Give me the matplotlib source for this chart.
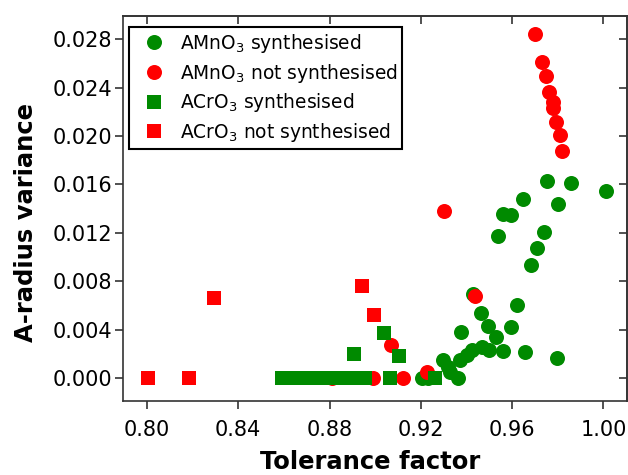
import matplotlib
matplotlib.use("Agg")
import matplotlib.pyplot as plt

plt.rcParams["font.family"] = ["DejaVu Sans"]
plt.rcParams["mathtext.default"] = "regular"

# AMnO3 compounds that have been synthesised
mn_syn_tf = [0.9751, 0.9856, 1.0010, 0.9646, 0.9799, 0.9558, 0.9594, 0.9739,
             0.9539, 0.9710, 0.9681, 0.9619, 0.9427, 0.9465, 0.9495, 0.9593,
             0.9375, 0.9530, 0.9656, 0.9795, 0.9561, 0.9499, 0.9466, 0.9422,
             0.9400, 0.9371, 0.9295, 0.9320, 0.9327, 0.9364, 0.9204, 0.9231]
mn_syn_var = [0.01628, 0.01612, 0.01545, 0.01483, 0.01436, 0.01359, 0.01345, 0.01207,
              0.01171, 0.01078, 0.00931, 0.00600, 0.00698, 0.00540, 0.00432, 0.00418,
              0.00380, 0.00342, 0.00215, 0.00165, 0.00223, 0.00230, 0.00256, 0.00230,
              0.00190, 0.00146, 0.00146, 0.00090, 0.00050, 0.0, 0.0, 0.0]

# AMnO3 compounds not synthesised
mn_not_tf = [0.9700, 0.9729, 0.9748, 0.9761, 0.9780, 0.9777, 0.9790, 0.9809,
             0.9819, 0.9302, 0.9437, 0.9068, 0.8809, 0.8991, 0.9120, 0.9225]
mn_not_var = [0.02846, 0.02612, 0.02493, 0.02364, 0.02281, 0.02235, 0.02116, 0.02006,
              0.01876, 0.01380, 0.00675, 0.00270, 0.0, 0.0, 0.0, 0.00050]

# ACrO3 compounds that have been synthesised
cr_syn_tf = [0.859, 0.861, 0.863, 0.865, 0.867, 0.869, 0.871, 0.873, 0.875,
             0.877, 0.879, 0.881, 0.883, 0.885, 0.887, 0.889, 0.891, 0.893,
             0.8955, 0.9064, 0.8907, 0.9037, 0.9105, 0.926]
cr_syn_var = [0.0, 0.0, 0.0, 0.0, 0.0, 0.0, 0.0, 0.0, 0.0,
              0.0, 0.0, 0.0, 0.0, 0.0, 0.0, 0.0, 0.0, 0.0,
              0.0, 0.0, 0.00196, 0.00372, 0.00179, 0.0]

# ACrO3 compounds not synthesised
cr_not_tf = [0.8003, 0.8184, 0.8295, 0.8942, 0.8994]
cr_not_var = [0.0, 0.0, 0.0066, 0.00758, 0.00518]

x_ticks = [0.80, 0.84, 0.88, 0.92, 0.96, 1.00]
x_tick_labels = ["0.80", "0.84", "0.88", "0.92", "0.96", "1.00"]
y_ticks = [0.000, 0.004, 0.008, 0.012, 0.016, 0.020, 0.024, 0.028]
y_tick_labels = ["0.000", "0.004", "0.008", "0.012", "0.016", "0.020", "0.024", "0.028"]

GREEN = "#008A00"
RED = "#FF0000"
SPINE = "#333333"

fig = plt.figure(figsize=(6.28, 4.75), dpi=100)
ax = fig.add_axes([0.1954, 0.1558, 0.8030, 0.8112])

ax.plot(mn_syn_tf, mn_syn_var, "o", ls="none", color=GREEN, ms=10.8, mew=0,
        label=r"AMnO$_3$ synthesised")
ax.plot(mn_not_tf, mn_not_var, "o", ls="none", color=RED, ms=10.8, mew=0,
        label=r"AMnO$_3$ not synthesised")
ax.plot(cr_syn_tf, cr_syn_var, "s", ls="none", color=GREEN, ms=9.6, mew=0,
        label=r"ACrO$_3$ synthesised")
ax.plot(cr_not_tf, cr_not_var, "s", ls="none", color=RED, ms=9.6, mew=0,
        label=r"ACrO$_3$ not synthesised")

ax.set_xlim(0.7894, 1.0103)
ax.set_ylim(-0.0019, 0.02995)

ax.set_xticks(x_ticks)
ax.set_xticklabels(x_tick_labels)
ax.set_yticks(y_ticks)
ax.set_yticklabels(y_tick_labels)

for s in ax.spines.values():
    s.set_color(SPINE)
    s.set_linewidth(1.2)

ax.tick_params(axis="both", direction="out", length=6, width=1.2, color=SPINE,
               labelsize=15, labelcolor="black")
ax.tick_params(axis="x", pad=7.5)
ax.tick_params(axis="y", pad=1.5)

# mirrored inward ticks on the top and right edges
top = ax.secondary_xaxis("top")
top.set_xticks(x_ticks)
top.set_xticklabels([""] * len(x_ticks))
top.tick_params(direction="in", length=6, width=1.2, color=SPINE)
top.spines["top"].set_color(SPINE)
top.spines["top"].set_linewidth(1.2)

right = ax.secondary_yaxis("right")
right.set_yticks(y_ticks)
right.set_yticklabels([""] * len(y_ticks))
right.tick_params(direction="in", length=6, width=1.2, color=SPINE)
right.spines["right"].set_color(SPINE)
right.spines["right"].set_linewidth(1.2)

ax.set_xlabel("Tolerance factor", fontsize=17.5, fontweight="bold")
ax.set_ylabel("A-radius variance", fontsize=17.5, fontweight="bold")
ax.xaxis.set_label_coords(0.490, -0.128)
ax.yaxis.set_label_coords(-0.168, 0.462)

leg = ax.legend(loc="upper left", bbox_to_anchor=(0.013, 0.970), borderaxespad=0,
                fontsize=13.4, frameon=True, fancybox=False, framealpha=1,
                edgecolor="black", borderpad=0.25, handlelength=2.2,
                handletextpad=0.25, labelspacing=0.36)
leg.get_frame().set_linewidth(1.5)

fig.savefig("out.png", dpi=100)
